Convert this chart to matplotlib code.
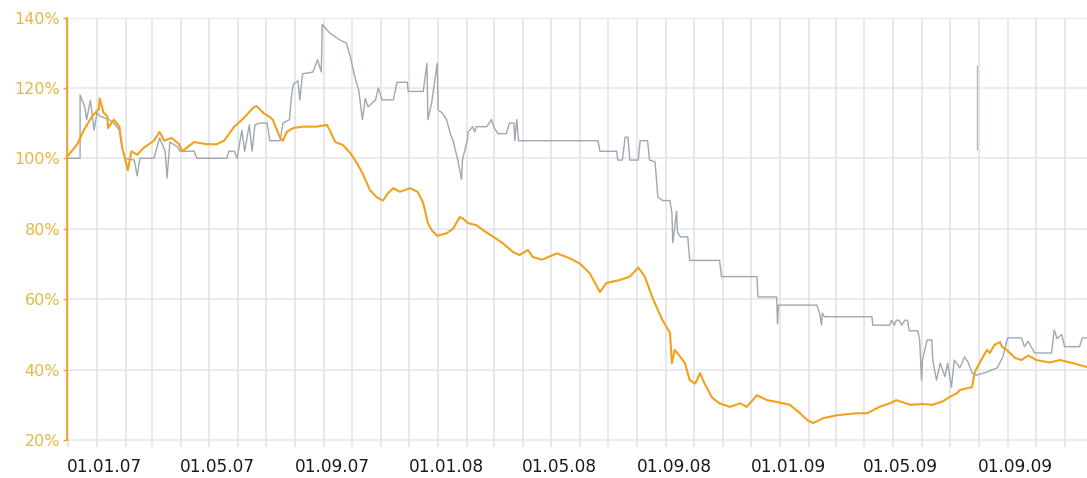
import numpy as np
import matplotlib
matplotlib.use("Agg")
import matplotlib.pyplot as plt
import matplotlib.dates as mdates
from matplotlib.ticker import FuncFormatter
from matplotlib.transforms import ScaledTranslation

start = np.datetime64("2007-01-01")

# orange series: days after 01.01.07, value in %
orange_days = [-32, -21, -14, -5, 2, 3, 7, 11, 12, 18, 24, 27, 30, 33, 37, 43, 50, 61, 67, 72,
               80, 88, 91, 104, 118, 128, 136, 147, 157, 168, 171, 178, 185, 188, 196, 199, 203,
               210, 220, 235, 246, 249, 255, 263, 271, 278, 284, 292, 299, 306, 311, 317, 324,
               335, 343, 349, 354, 358, 364, 374, 381, 388, 391, 397, 406, 413, 424, 434, 445,
               452, 461, 466, 476, 492, 506, 517, 527, 535, 538, 545, 559, 570, 579, 586, 595,
               605, 613, 615, 618, 624, 629, 634, 640, 645, 650, 658, 666, 677, 688, 695, 706,
               717, 727, 741, 752, 760, 766, 777, 791, 813, 824, 837, 848, 855, 870, 883, 894,
               905, 912, 920, 923, 936, 939, 944, 952, 955, 960, 966, 968, 973, 982, 989, 996,
               1005, 1019, 1030, 1044, 1059]
orange_vals = [100.4, 104, 108, 112, 114, 117, 113, 112, 108.6, 111, 109, 103, 100, 96.6, 102,
               101, 103, 105, 107.5, 105, 105.8, 104, 102, 104.6, 104, 104, 105, 109, 111.4,
               114.6, 114.8, 112.9, 111.7, 111, 105.8, 105, 107.5, 108.6, 109, 109, 109.5, 108,
               104.6, 103.8, 101.5, 98.7, 95.8, 91, 89, 88, 90, 91.5, 90.5, 91.5, 90.5, 87.3,
               81.6, 79.6, 78, 78.7, 80, 83.3, 83, 81.6, 81, 79.6, 77.7, 75.9, 73.4, 72.5, 74,
               72, 71.2, 73, 71.6, 70, 67.4, 63.5, 62, 64.6, 65.4, 66.4, 69, 66.4, 59.9, 54,
               50.4, 41.8, 45.6, 43.6, 41.8, 37, 36, 39, 36, 32, 30.4, 29.4, 30.4, 29.4, 32.7,
               31.3, 30.8, 30, 27.6, 25.6, 24.8, 26.2, 27, 27.6, 27.6, 29.4, 30.4, 31.3, 30,
               30.2, 30, 31, 32.2, 33.3, 34.2, 35, 39.3, 41.8, 45.6, 44.7, 47, 47.8, 46.5, 45.6,
               43.3, 42.7, 44, 42.7, 42, 42.7, 41.8, 40.7]

# gray series: days after 01.01.07, value in %
gray_days = [-32, -18, -18, -13, -11, -7, -3, 0, 3, 13, 18, 24, 27, 30, 40, 43, 46, 61, 67, 73,
             75, 78, 86, 89, 104, 107, 139, 141, 147, 150, 155, 158, 163, 166, 169, 174, 182,
             185, 196, 199, 206, 208, 210, 215, 217, 220, 231, 236, 240, 241, 249, 260, 267,
             271, 276, 280, 284, 287, 290, 298, 301, 305, 317, 321, 332, 333, 349, 353, 354,
             358, 364, 365, 369, 374, 378, 381, 386, 390, 391, 396, 397, 402, 404, 406, 417,
             422, 425, 429, 438, 441, 446, 447, 449, 451, 536, 538, 556, 557, 562, 565, 568,
             570, 579, 581, 589, 591, 597, 600, 605, 613, 615, 616, 620, 621, 624, 632, 634,
             666, 668, 706, 707, 727, 728, 729, 770, 773, 775, 776, 778, 829, 830, 848, 850,
             853, 855, 858, 861, 864, 867, 869, 878, 880, 882, 883, 888, 893, 894, 898, 902,
             907, 910, 914, 917, 923, 928, 932, 936, 941, 952, 963, 969, 974, 989, 992, 996,
             1003, 1021, 1024, 1027, 1032, 1035, 1051, 1054, 1059]
gray_vals = [100, 100, 118, 114.6, 111, 116.5, 108, 113, 112, 111, 110, 108, 103, 100, 99.5, 95,
             100, 100, 105.8, 102, 94.4, 104.6, 103.3, 102, 102, 100, 100, 102, 102, 100, 108,
             102, 109.5, 102, 109.5, 110, 110, 105, 105, 110, 111, 117.4, 121, 122, 116.6, 124,
             124.5, 128, 124.5, 138, 135.6, 133.6, 132.7, 128.8, 123, 119.4, 111, 117, 114.6,
             116.6, 120, 116.6, 116.6, 121.6, 121.6, 119, 119, 127, 111, 115.7, 127, 113.7,
             113, 111, 107, 105, 99.5, 94, 99.5, 105, 107.5, 109, 107.5, 109, 109, 111, 108.6,
             107, 107, 110, 110, 105, 111, 105, 105, 102, 102, 99.5, 99.5, 106, 106, 99.5,
             99.5, 105, 105, 99.5, 99, 89, 88, 88, 84.4, 76, 85, 79, 77.7, 77.7, 71, 71, 66.4,
             66.4, 60.6, 60.6, 53, 58.3, 58.3, 56, 52.7, 56, 55, 55, 52.6, 52.6, 54, 52.6, 54,
             54, 52.6, 54, 54, 51, 51, 48.4, 37, 42.7, 48.4, 48.4, 42.7, 37, 41.8, 38, 41.8,
             35, 42.7, 40.5, 43.6, 42, 39, 38.4, 39.3, 40.5, 43.6, 49, 49, 46.5, 48, 44.7,
             44.7, 51.2, 48.8, 50, 46.5, 46.5, 49, 49]

# stray gray mark in mid 2009
stray_day = 941
stray_range = [102.4, 126.5]

yticks = [20, 40, 60, 80, 100, 120, 140]

orange = "#f2a11c"
gray = "#9ea8b2"

fig = plt.figure(figsize=(10.87, 4.78), dpi=100)
ax = fig.add_axes([67 / 1087, 1 - 447 / 478, 1 - 67 / 1087, (447 - 17.5) / 478])

od = start + np.array(orange_days).astype("timedelta64[D]")
gd = start + np.array(gray_days).astype("timedelta64[D]")
sd = start + np.timedelta64(stray_day, "D")

ax.plot(gd, gray_vals, color=gray, lw=1.0, zorder=2)
ax.vlines(sd, stray_range[0], stray_range[1], color="#b4bcc4", lw=1.0, zorder=2)
ax.plot(od, orange_vals, color=orange, lw=1.5, zorder=3)

ax.set_xlim(np.datetime64("2006-11-30"), np.datetime64("2009-11-25"))
ax.set_ylim(18, 140)

ax.xaxis.set_major_locator(mdates.MonthLocator(bymonth=[1, 5, 9]))
ax.xaxis.set_major_formatter(mdates.DateFormatter("%d.%m.%y"))
ax.xaxis.set_minor_locator(mdates.MonthLocator())
ax.set_yticks(yticks)
ax.yaxis.set_major_formatter(FuncFormatter(lambda v, p: f"{v:.0f}%"))

ax.grid(True, axis="x", which="both", color="#dfe1e6", lw=1.1, zorder=0)
ax.grid(True, axis="y", which="major", color="#e4e6eb", lw=1.1, zorder=0)

for s in ["top", "right", "bottom"]:
    ax.spines[s].set_visible(False)
ax.spines["left"].set_color(orange)
ax.spines["left"].set_linewidth(1.3)
ax.spines["left"].set_bounds(20, 140)

ax.tick_params(axis="x", which="both", length=0, pad=8, labelsize=12.2, labelcolor="#1a1a1a")
ax.tick_params(axis="y", length=3, width=1, color=orange, pad=2, labelsize=11.5,
               labelcolor="#e4b845")

offset = ScaledTranslation(8 / 100, 0, fig.dpi_scale_trans)
for lab in ax.get_xticklabels():
    lab.set_transform(lab.get_transform() + offset)

fig.savefig("out.png", dpi=100)
